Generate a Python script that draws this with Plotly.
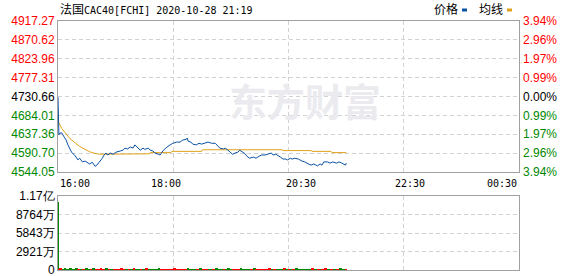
import plotly.graph_objects as go

# ---------------- data ----------------
title_main = "CAC40[FCHI] 2020-10-28 21:19"
title_cjk = "法国"
prev_close = 4730.66

# minutes since 16:00
price_min = [0, 1, 2, 4, 7, 9, 11, 13, 15, 19, 22, 24, 27, 30, 33, 35, 38, 41, 43, 46,
             49, 51, 53, 55, 58, 61, 64, 69, 72, 74, 77, 80, 83, 85, 89, 91, 94, 96, 100, 102,
             105, 107, 111, 113, 116, 119, 124, 127, 131, 135, 138, 142, 143, 144, 147, 149, 153, 156, 159, 163,
             166, 170, 174, 177, 179, 183, 185, 188, 190, 193, 196, 199, 201, 204, 207, 209, 212, 216, 219, 221,
             225, 229, 232, 236, 238, 241, 246, 249, 252, 254, 257, 259, 262, 266, 270, 273, 277, 280, 283, 287,
             290, 292, 294, 298, 301, 304, 308, 311, 314, 316, 318, 319]
price_val = [4729, 4636, 4640, 4641, 4630, 4623, 4611, 4603, 4593, 4584, 4574, 4578, 4569, 4571, 4566, 4564, 4568, 4558, 4561, 4569,
             4578, 4586, 4591, 4586, 4591, 4588, 4593, 4596, 4598, 4603, 4601, 4606, 4603, 4611, 4603, 4598, 4603, 4600, 4603, 4598,
             4596, 4591, 4588, 4586, 4596, 4603, 4611, 4615, 4618, 4618, 4623, 4625, 4628, 4620, 4618, 4613, 4611, 4615, 4613, 4615,
             4618, 4615, 4615, 4608, 4603, 4601, 4603, 4598, 4593, 4588, 4591, 4593, 4598, 4593, 4589, 4583, 4578, 4581, 4578, 4581,
             4586, 4586, 4588, 4591, 4586, 4588, 4581, 4576, 4576, 4574, 4578, 4576, 4578, 4576, 4571, 4569, 4564, 4561, 4564, 4559,
             4564, 4561, 4569, 4569, 4566, 4569, 4566, 4569, 4566, 4564, 4561, 4566]

avg_min = [1, 4, 8, 13, 19, 24, 30, 35, 41, 46, 101, 102, 125, 126, 159, 160, 248, 249, 280, 281, 302, 303, 319]
avg_val = [4666, 4652, 4641, 4627, 4616, 4607, 4600, 4594, 4590, 4588, 4589, 4592, 4592, 4595, 4595, 4599, 4599, 4597, 4597, 4595, 4595, 4592, 4592]

# volume (in 万) at the same minutes as the price samples
vol_wan = [10750, 170, 150, 160, 140, 165, 155, 145, 170, 150, 160, 140, 155, 145, 165, 150, 140, 160, 145, 155,
           170, 150, 140, 160, 145, 155, 150, 140, 165, 145, 155, 150, 140, 160, 145, 155, 150, 140, 165, 145,
           155, 150, 140, 160, 145, 155, 150, 140, 165, 145, 155, 150, 140, 160, 145, 155, 150, 140, 165, 145,
           155, 150, 140, 160, 145, 155, 150, 140, 165, 145, 155, 150, 140, 160, 145, 155, 150, 140, 165, 145,
           155, 150, 140, 160, 145, 155, 150, 140, 165, 145, 155, 150, 140, 160, 145, 155, 150, 140, 165, 145,
           155, 150, 140, 160, 145, 155, 150, 140, 165, 145, 155, 150]

price_ticks = [4544.05, 4590.70, 4637.36, 4684.01, 4730.66, 4777.31, 4823.96, 4870.62, 4917.27]
vol_ticks = [0, 29210000, 58430000, 87640000, 116850000]
vol_tick_labels = ["0", "2921万", "5843万", "8764万", "1.17亿"]
time_labels = ["16:00", "18:00", "20:30", "22:30", "00:30"]
legend_names = ["价格", "均线"]
watermark = "东方财富"
total_minutes = 510

# ---------------- styles ----------------
RED = "#ff0000"
GREEN = "#008800"
BLACK = "#000000"
BLUE = "#0b52a5"
ORANGE = "#e0a21a"
GRID = "#d2d2d2"
FRAME = "#a0a0a0"
FONT = "Liberation Sans, Arial, sans-serif"
MONO = "DejaVu Sans Mono, Noto Sans CJK SC, monospace"
CJK = "Noto Sans CJK SC, sans-serif"

PLOT_L, PLOT_R, PLOT_T, PLOT_B = 58, 519, 21, 270


def px_x(px):
    return (px - PLOT_L) / (PLOT_R - PLOT_L)


def px_y(py):
    return (PLOT_B - py) / (PLOT_B - PLOT_T)


def col(v):
    if v > prev_close + 1e-6:
        return RED
    if v < prev_close - 1e-6:
        return GREEN
    return BLACK


price_text = [f"<span style='color:{col(v)}'>{v:.2f}</span>" for v in price_ticks]
pct_text = [f"<span style='color:{col(v)}'>{abs(v / prev_close - 1) * 100:.2f}%</span>" for v in price_ticks]

vol_vals = [w * 10000 for w in vol_wan]
vol_colors = [GREEN]
for i in range(1, len(price_val)):
    vol_colors.append(RED if price_val[i] >= price_val[i - 1] else GREEN)
vol_widths = [1.6] + [max(price_min[i] - price_min[i - 1], 1) for i in range(1, len(price_min))]
vol_x = [price_min[0]] + [price_min[i] - (price_min[i] - price_min[i - 1]) / 2 for i in range(1, len(price_min))]

fig = go.Figure()

fig.add_trace(go.Scatter(x=avg_min, y=avg_val, mode="lines", line=dict(color=ORANGE, width=1),
                         xaxis="x", yaxis="y", hoverinfo="skip", showlegend=False))
fig.add_trace(go.Scatter(x=price_min, y=price_val, mode="lines", line=dict(color=BLUE, width=1),
                         xaxis="x", yaxis="y", hoverinfo="skip", showlegend=False))
# invisible trace carrying the right-hand percent axis
fig.add_trace(go.Scatter(x=price_min, y=price_val, mode="lines", line=dict(width=0), opacity=0,
                         xaxis="x", yaxis="y3", hoverinfo="skip", showlegend=False))
fig.add_trace(go.Bar(x=vol_x, y=vol_vals, width=vol_widths, marker=dict(color=vol_colors, line=dict(width=0)),
                     xaxis="x2", yaxis="y2", hoverinfo="skip", showlegend=False))

grid_x = [total_minutes * k / 4 for k in range(1, 4)]

xcommon = dict(range=[0, total_minutes], tickvals=grid_x, showticklabels=False, ticks="",
               showgrid=True, gridcolor=GRID, griddash="4px,3px", gridwidth=1, automargin=False,
               showline=True, linecolor=FRAME, linewidth=1, mirror=True, zeroline=False, fixedrange=True)

fig.update_layout(
    width=578, height=276,
    margin=dict(l=PLOT_L, r=578 - PLOT_R, t=PLOT_T, b=276 - PLOT_B, autoexpand=False),
    paper_bgcolor="white", plot_bgcolor="white",
    bargap=0,
    xaxis=dict(anchor="y", **xcommon),
    xaxis2=dict(anchor="y2", matches="x", **xcommon),
    yaxis=dict(domain=[px_y(172), 1], range=[price_ticks[0], price_ticks[-1]], tickvals=price_ticks,
               ticktext=price_text, ticks="", showgrid=True, gridcolor=GRID, griddash="4px,3px", automargin=False,
               showline=True, linecolor=FRAME, linewidth=1, mirror=True, zeroline=False, ticklabeloverflow="allow",
               tickfont=dict(family=FONT, size=12), ticklabelstandoff=0),
    yaxis3=dict(overlaying="y", side="right", anchor="x", range=[price_ticks[0], price_ticks[-1]],
                tickvals=price_ticks, ticktext=pct_text, ticks="", showgrid=False, zeroline=False, automargin=False,
                showline=False, tickfont=dict(family=FONT, size=12), ticklabelstandoff=3, ticklabeloverflow="allow"),
    yaxis2=dict(domain=[0, px_y(196)], range=[0, vol_ticks[-1]], tickvals=vol_ticks, ticktext=vol_tick_labels,
                ticks="", showgrid=True, gridcolor=GRID, griddash="4px,3px", automargin=False,
                showline=True, linecolor=FRAME, linewidth=1, mirror=True, zeroline=False, ticklabeloverflow="allow",
                tickfont=dict(family=FONT, size=12, color=BLACK), ticklabelstandoff=0),
)

# title
fig.add_annotation(x=0, y=1, xref="paper", yref="paper", xanchor="left", yanchor="bottom", yshift=2,
                   text=f"<span style='font-size:12px'>{title_cjk}</span>{title_main}",
                   showarrow=False, font=dict(family=MONO, size=10, color=BLACK))

# legend (text + small colour marks)
for name, c, px in zip(legend_names, [BLUE, ORANGE], [432, 477]):
    fig.add_annotation(x=px_x(px), y=1, xref="paper", yref="paper", xanchor="left", yanchor="bottom",
                       yshift=2, text=name, showarrow=False, font=dict(family=CJK, size=12, color=BLACK))
    fig.add_shape(type="rect", xref="paper", yref="paper", x0=px_x(px + 30), x1=px_x(px + 35),
                  y0=px_y(11.5), y1=px_y(8.5), line=dict(width=0), fillcolor=c)

# watermark
fig.add_annotation(x=px_x(305), y=px_y(70), xref="paper", yref="paper", xanchor="center", yanchor="top",
                   text=f"<b>{watermark}</b>", showarrow=False,
                   font=dict(family=CJK, size=38, color="#ebebef"))

# time labels
time_pos = [0, 0.234, 0.527, 0.763, 1]
anchors = ["left", "center", "center", "center", "right"]
for lab, p, a in zip(time_labels, time_pos, anchors):
    fig.add_annotation(x=p * total_minutes, y=px_y(183), xref="x", yref="paper", xanchor=a,
                       yanchor="middle", text=lab, showarrow=False, font=dict(family=MONO, size=10, color=BLACK))

fig.write_html("out.html")
